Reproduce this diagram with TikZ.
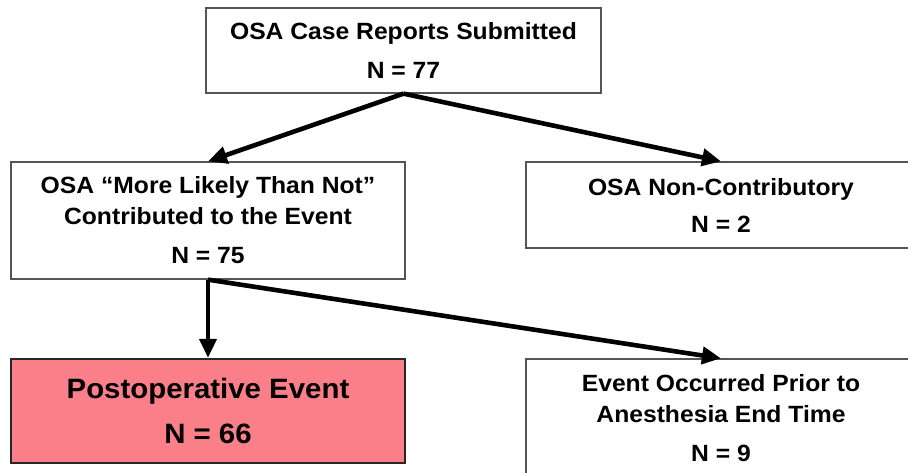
\documentclass[tikz,border=0pt]{standalone}
\usepackage{fontspec}
\setmainfont[FakeStretch=1.05]{Liberation Sans}
\usetikzlibrary{arrows.meta}
\definecolor{eventcol}{HTML}{FA7F88}
\definecolor{framecol}{HTML}{555555}
\tikzset{
  cbox/.style={rectangle, draw=framecol, line width=1.3pt, fill=white, align=center, font=\fontsize{23.5}{31}\selectfont\bfseries, inner sep=0pt},
  ebox/.style={cbox, draw=black!85, line width=2.5pt, fill=eventcol, font=\fontsize{28}{45}\selectfont\bfseries},
  flow/.style={-{Triangle[length=19pt,width=17pt]}, line width=4.6pt},
}
\begin{document}
\begin{tikzpicture}[x=1pt, y=-1pt]
  \useasboundingbox (0,0) rectangle (908,473);
  \clip (0,0) rectangle (908,473);
  \node[cbox, minimum width=395pt, minimum height=85pt] (sub) at (403.5,50.5) {OSA Case Reports Submitted\\[8pt] N = 77};
  \node[cbox, minimum width=394pt, minimum height=117pt] (osa) at (208,220.5) {OSA “More Likely Than Not”\\ Contributed to the Event\\[8pt] N = 75};
  \node[cbox, minimum width=390pt, minimum height=86pt] (nonc) at (721,205) {OSA Non-Contributory\\[6pt] N = 2};
  \node[ebox, minimum width=394pt, minimum height=104pt] (post) at (208,411) {Postoperative Event\\ N = 66};
  \node[cbox, minimum width=390pt, minimum height=118pt] (prior) at (721,418) {Event Occurred Prior to\\ Anesthesia End Time\\[8pt] N = 9};
  \draw[flow] (sub.south) -- (osa.north);
  \draw[flow] (sub.south) -- (nonc.north);
  \draw[flow] (osa.south) -- (post.north);
  \draw[flow] (osa.south) -- (prior.north);
\end{tikzpicture}
\end{document}
